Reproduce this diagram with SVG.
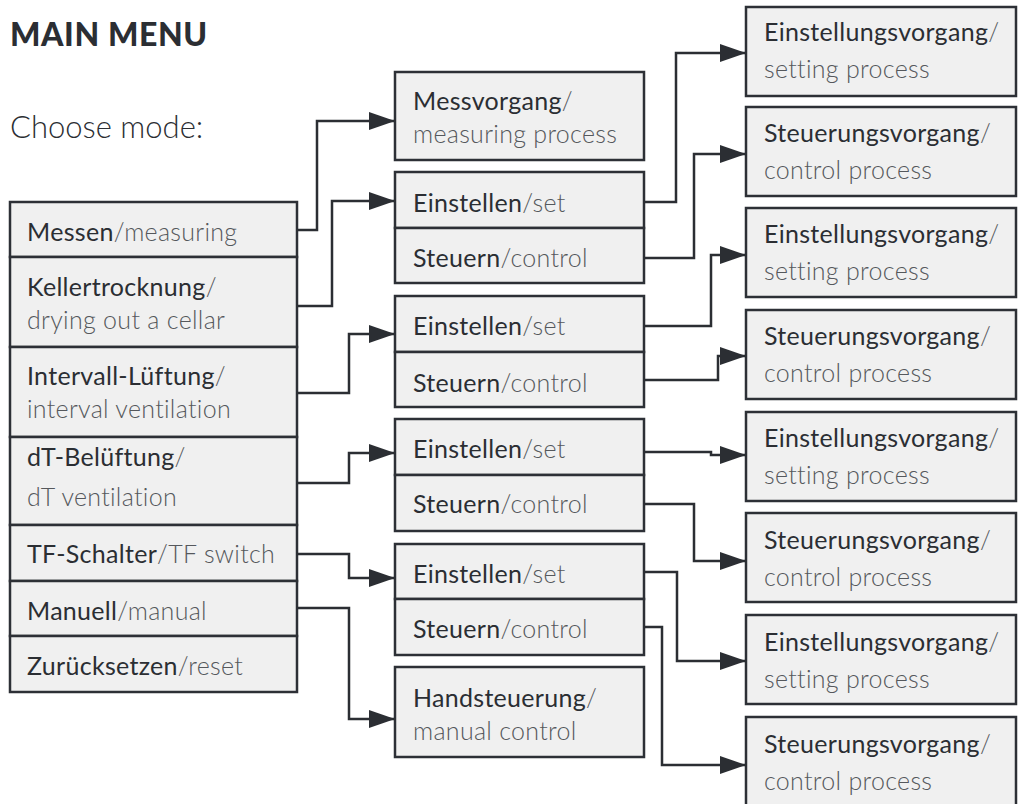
<svg xmlns="http://www.w3.org/2000/svg" width="1018" height="804" viewBox="0 0 1018 804">
<defs>
<marker id="arr" markerWidth="26" markerHeight="18" refX="26" refY="9" orient="auto" markerUnits="userSpaceOnUse">
<path d="M0,0 L26,9 L0,18 Z" fill="#2b2e33"/>
</marker>
<style>
.box{fill:#f0f0f0;stroke:#2d3036;stroke-width:2.5}
.de{font-family:Lato,"Liberation Sans",sans-serif;font-size:25px;fill:#2b2e33;font-weight:400;letter-spacing:0.3px}
.en{font-family:Lato,"Liberation Sans",sans-serif;font-size:25px;fill:#55585c;font-weight:300;letter-spacing:0.3px}
.c{fill:none;stroke:#2b2e33;stroke-width:2.5}
</style>
</defs>
<rect width="1018" height="804" fill="#ffffff"/>
<text x="10" y="46" style="font-family:Lato,'Liberation Sans',sans-serif;font-size:32px;font-weight:900;fill:#2b2e33;letter-spacing:0.6px">MAIN MENU</text>
<text x="10" y="138" style="font-family:Lato,'Liberation Sans',sans-serif;font-size:31px;font-weight:300;fill:#2b2e33">Choose mode:</text>

<g id="main-menu">
<rect class="box" x="10" y="202" width="287" height="55"/>
<rect class="box" x="10" y="257" width="287" height="90"/>
<rect class="box" x="10" y="347" width="287" height="90"/>
<rect class="box" x="10" y="437" width="287" height="88"/>
<rect class="box" x="10" y="525" width="287" height="56"/>
<rect class="box" x="10" y="581" width="287" height="55"/>
<rect class="box" x="10" y="636" width="287" height="56"/>
<text x="27" y="241"><tspan class="de">Messen</tspan><tspan class="en">/measuring</tspan></text>
<text x="27" y="296" class="de">Kellertrocknung<tspan class="en">/</tspan></text>
<text x="27" y="329" class="en">drying out a cellar</text>
<text x="27" y="385" class="de">Intervall-Lüftung<tspan class="en">/</tspan></text>
<text x="27" y="418" class="en">interval ventilation</text>
<text x="27" y="466" class="de">dT-Belüftung<tspan class="en">/</tspan></text>
<text x="27" y="506" class="en">dT ventilation</text>
<text x="27" y="563"><tspan class="de">TF-Schalter</tspan><tspan class="en">/TF switch</tspan></text>
<text x="27" y="620"><tspan class="de">Manuell</tspan><tspan class="en">/manual</tspan></text>
<text x="27" y="675"><tspan class="de">Zurücksetzen</tspan><tspan class="en">/reset</tspan></text>
</g>

<g id="messvorgang">
<rect class="box" x="395" y="72" width="249" height="88"/>
<text x="413" y="110" class="de">Messvorgang<tspan class="en">/</tspan></text>
<text x="413" y="143" class="en">measuring process</text>
</g>

<g id="keller-sub">
<rect class="box" x="395" y="172" width="249" height="56"/>
<rect class="box" x="395" y="228" width="249" height="55"/>
<text x="413" y="212"><tspan class="de">Einstellen</tspan><tspan class="en">/set</tspan></text>
<text x="413" y="267"><tspan class="de">Steuern</tspan><tspan class="en">/control</tspan></text>
</g>

<g id="intervall-sub">
<rect class="box" x="395" y="296" width="249" height="56"/>
<rect class="box" x="395" y="352" width="249" height="55"/>
<text x="413" y="335"><tspan class="de">Einstellen</tspan><tspan class="en">/set</tspan></text>
<text x="413" y="392"><tspan class="de">Steuern</tspan><tspan class="en">/control</tspan></text>
</g>

<g id="dt-sub">
<rect class="box" x="395" y="419" width="249" height="56"/>
<rect class="box" x="395" y="475" width="249" height="56"/>
<text x="413" y="458"><tspan class="de">Einstellen</tspan><tspan class="en">/set</tspan></text>
<text x="413" y="513"><tspan class="de">Steuern</tspan><tspan class="en">/control</tspan></text>
</g>

<g id="tf-sub">
<rect class="box" x="395" y="544" width="249" height="55"/>
<rect class="box" x="395" y="599" width="249" height="56"/>
<text x="413" y="583"><tspan class="de">Einstellen</tspan><tspan class="en">/set</tspan></text>
<text x="413" y="638"><tspan class="de">Steuern</tspan><tspan class="en">/control</tspan></text>
</g>

<g id="handsteuerung">
<rect class="box" x="395" y="667" width="249" height="90"/>
<text x="413" y="707" class="de">Handsteuerung<tspan class="en">/</tspan></text>
<text x="413" y="740" class="en">manual control</text>
</g>

<g id="proc1">
<rect class="box" x="746" y="7" width="270" height="89"/>
<text x="764" y="41" class="de">Einstellungsvorgang<tspan class="en">/</tspan></text>
<text x="764" y="78" class="en">setting process</text>
</g>
<g id="proc2">
<rect class="box" x="746" y="107" width="270" height="89"/>
<text x="764" y="142" class="de">Steuerungsvorgang<tspan class="en">/</tspan></text>
<text x="764" y="179" class="en">control process</text>
</g>
<g id="proc3">
<rect class="box" x="746" y="208" width="270" height="89"/>
<text x="764" y="243" class="de">Einstellungsvorgang<tspan class="en">/</tspan></text>
<text x="764" y="280" class="en">setting process</text>
</g>
<g id="proc4">
<rect class="box" x="746" y="310" width="270" height="89"/>
<text x="764" y="345" class="de">Steuerungsvorgang<tspan class="en">/</tspan></text>
<text x="764" y="382" class="en">control process</text>
</g>
<g id="proc5">
<rect class="box" x="746" y="412" width="270" height="89"/>
<text x="764" y="447" class="de">Einstellungsvorgang<tspan class="en">/</tspan></text>
<text x="764" y="484" class="en">setting process</text>
</g>
<g id="proc6">
<rect class="box" x="746" y="513" width="270" height="89"/>
<text x="764" y="549" class="de">Steuerungsvorgang<tspan class="en">/</tspan></text>
<text x="764" y="586" class="en">control process</text>
</g>
<g id="proc7">
<rect class="box" x="746" y="615" width="270" height="89"/>
<text x="764" y="651" class="de">Einstellungsvorgang<tspan class="en">/</tspan></text>
<text x="764" y="688" class="en">setting process</text>
</g>
<g id="proc8">
<rect class="box" x="746" y="717" width="270" height="89"/>
<text x="764" y="753" class="de">Steuerungsvorgang<tspan class="en">/</tspan></text>
<text x="764" y="790" class="en">control process</text>
</g>

<g id="connectors">
<path class="c" marker-end="url(#arr)" d="M297,230 H317 V121 H395"/>
<path class="c" marker-end="url(#arr)" d="M297,306 H332 V201 H395"/>
<path class="c" marker-end="url(#arr)" d="M297,393 H349 V334 H395"/>
<path class="c" marker-end="url(#arr)" d="M297,483 H349 V453 H395"/>
<path class="c" marker-end="url(#arr)" d="M297,554 H349 V578 H395"/>
<path class="c" marker-end="url(#arr)" d="M297,608 H349 V719 H395"/>
<path class="c" marker-end="url(#arr)" d="M644,202 H676 V53 H746"/>
<path class="c" marker-end="url(#arr)" d="M644,258 H694 V154 H746"/>
<path class="c" marker-end="url(#arr)" d="M644,326 H711 V255 H746"/>
<path class="c" marker-end="url(#arr)" d="M644,380 H718 V356 H746"/>
<path class="c" marker-end="url(#arr)" d="M644,452 H711 V455 H746"/>
<path class="c" marker-end="url(#arr)" d="M644,504 H694 V561 H746"/>
<path class="c" marker-end="url(#arr)" d="M644,572 H677 V661 H746"/>
<path class="c" marker-end="url(#arr)" d="M644,627 H662 V765 H746"/>
</g>
</svg>
